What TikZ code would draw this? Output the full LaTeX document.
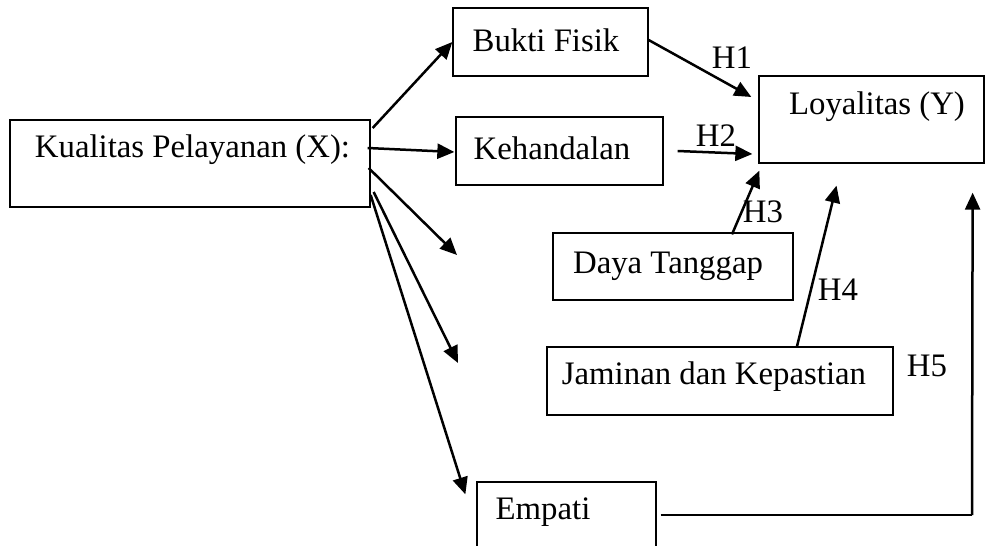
\documentclass[tikz,border=0pt]{standalone}
\usepackage{fontspec}
\setmainfont{Liberation Serif}
\usetikzlibrary{arrows.meta,calc}
\begin{document}
\begin{tikzpicture}[x=1pt,y=-1pt,
  box/.style={draw,line width=1.3pt,rectangle,inner sep=0pt},
  txt/.style={inner sep=0pt,font=\fontsize{32.8}{39}\selectfont},
  arr/.style={line width=2.5pt,-{Triangle[length=17pt,width=15pt]}},
  thin/.style={line width=1.3pt}]
\useasboundingbox (0,0) rectangle (986,546);
\clip (0,0) rectangle (986,546);
% boxes
\node[box,minimum width=360pt,minimum height=87pt] (K) at (190,163.5) {};
\node[box,minimum width=195pt,minimum height=68pt] (BF) at (550.5,42) {};
\node[box,minimum width=207pt,minimum height=68pt] (KH) at (559.5,151) {};
\node[box,minimum width=225pt,minimum height=87pt] (LY) at (871.5,119.5) {};
\node[box,minimum width=240pt,minimum height=67pt] (DT) at (673,266.5) {};
\node[box,minimum width=346pt,minimum height=68pt] (JK) at (720,381) {};
\node[box,minimum width=179pt,minimum height=78pt] (EM) at (566.5,521) {};
% texts
\node[txt] (tK) at (192.5,150) {Kualitas Pelayanan (X):};
\node[txt] (tBF) at (546,40) {Bukti Fisik};
\node[txt] (tKH) at (552,148) {Kehandalan};
\node[txt] (tLY) at (877,107) {Loyalitas (Y)};
\node[txt] (tDT) at (668,266) {Daya Tanggap};
\node[txt] (tJK) at (714,377) {Jaminan dan Kepastian};
\node[txt] (tEM) at (543,512) {Empati};
% labels
\node[txt] (h1) at (732,58) {H1};
\node[txt] (h2) at (716,136) {H2};
\node[txt] (h3) at (763,212) {H3};
\node[txt] (h4) at (838,290) {H4};
\node[txt] (h5) at (927,366) {H5};
% free ends
\coordinate (a3) at (457,255);
\coordinate (a4) at (458,363);
\coordinate (c5) at (972,515);
% arrows from X
\draw[arr] ($(K.east)+(2,-35.5)$) -- (BF.west);
\draw[arr] ($(K.east)+(-3,-15.5)$) -- ($(KH.west)+(-1,1)$);
\draw[arr] ($(K.east)+(-2,4.5)$) -- (a3);
\draw[arr] ($(K.east)+(3,28.5)$) -- (a4);
\draw[arr] ($(K.east)+(0,31.5)$) -- ($(EM.north west)+(-11,13)$);
% hypotheses
\draw[arr] ($(BF.east)+(0,-2)$) -- ($(LY.west)+(-7,-22.5)$);
\draw[arr] ($(KH.east)+(14,0)$) -- ($(LY.west)+(-6,34.5)$);
\draw[arr] ($(DT.north)+(59,2)$) -- ($(LY.south west)+(1,7)$);
\draw[arr] ($(JK.north)+(77,0)$) -- ($(LY.south)+(-35,22)$);
\draw[thin] ($(EM.east)+(4,-6)$) -- (c5);
\draw[arr] (c5) -- ($(LY.south east)+(-12,29)$);
\end{tikzpicture}
\end{document}
